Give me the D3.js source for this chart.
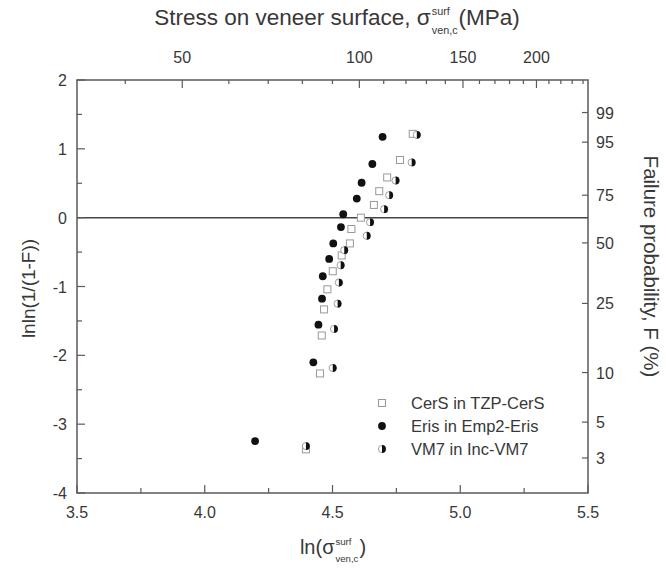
<!DOCTYPE html>
<html><head><meta charset="utf-8">
<script src="https://cdn.jsdelivr.net/npm/d3@7"></script>
<style>body{margin:0;background:#fff}text{font-family:"Liberation Sans",Arial,sans-serif;fill:#383838}</style>
</head><body><svg id="c" width="666" height="569"></svg>
<script>
// ---- data (x = ln(stress), y = lnln(1/(1-F))) ----
const cersX = [4.814,4.764,4.714,4.683,4.662,4.611,4.574,4.568,4.536,4.501,4.480,4.467,4.458,4.451,4.396];
const cersY = [1.218,0.838,0.584,0.385,0.185,0.000,-0.165,-0.374,-0.549,-0.778,-1.041,-1.333,-1.712,-2.263,-3.366];
const erisX = [4.696,4.656,4.614,4.595,4.542,4.533,4.503,4.487,4.462,4.459,4.445,4.425,4.197];
const erisY = [1.174,0.780,0.507,0.277,0.050,-0.136,-0.374,-0.599,-0.851,-1.177,-1.555,-2.102,-3.245];
const vm7X = [4.830,4.810,4.747,4.722,4.702,4.647,4.634,4.546,4.532,4.525,4.520,4.506,4.501,4.396];
const vm7Y = [1.203,0.803,0.540,0.327,0.123,-0.066,-0.263,-0.472,-0.691,-0.943,-1.250,-1.617,-2.184,-3.318];
const seriesNames = ["CerS in TZP-CerS","Eris in Emp2-Eris","VM7 in Inc-VM7"];
const bottomTicks = [3.5,4.0,4.5,5.0,5.5];
const bottomMinor = [3.75,4.25,4.75,5.25];
const leftTicks = [2,1,0,-1,-2,-3,-4];
const leftMinor = [1.5,0.5,-0.5,-1.5,-2.5,-3.5];
const topMajor = [50,100,150,200];
const topMinor = [40,60,70,80,90,110,120,130,140,160,170,180,190,210,220,230,240];
const rightTicks = [99,95,75,50,25,10,5,3];

const svg = d3.select("#c");
const L=77,R=588,T=80,B=493;
const x = d3.scaleLinear().domain([3.5,5.5]).range([L,R]);
const y = d3.scaleLinear().domain([-4,2]).range([B,T]);
const axisCol="#5a5a5a";
const g = svg.append("g");
const tickFs=16;

// frame
g.append("rect").attr("x",L).attr("y",T).attr("width",R-L).attr("height",B-T)
 .attr("fill","none").attr("stroke",axisCol).attr("stroke-width",1.5);
// zero line
g.append("line").attr("x1",L).attr("x2",R).attr("y1",y(0)).attr("y2",y(0)).attr("stroke","#444").attr("stroke-width",1.5);

function tick(x1,y1,x2,y2){g.append("line").attr("x1",x1).attr("y1",y1).attr("x2",x2).attr("y2",y2).attr("stroke",axisCol).attr("stroke-width",1.2);}
// bottom
bottomTicks.forEach(v=>{tick(x(v),B,x(v),B-8);
  g.append("text").attr("x",x(v)).attr("y",B+25).attr("text-anchor","middle").attr("font-size",tickFs).text(d3.format(".1f")(v));});
bottomMinor.forEach(v=>tick(x(v),B,x(v),B-5));
// left
leftTicks.forEach(v=>{tick(L,y(v),L+8,y(v));
  g.append("text").attr("x",L-10).attr("y",y(v)+6).attr("text-anchor","end").attr("font-size",tickFs).text(v);});
leftMinor.forEach(v=>tick(L,y(v),L+5,y(v)));
// top (log MPa)
const xt = v=>x(Math.log(v));
topMajor.forEach(v=>{tick(xt(v),T,xt(v),T+8);
  g.append("text").attr("x",xt(v)).attr("y",T-17).attr("text-anchor","middle").attr("font-size",tickFs).text(v);});
topMinor.forEach(v=>tick(xt(v),T,xt(v),T+4));
// right (failure probability)
const yr = p=>y(Math.log(-Math.log(1-p/100)));
rightTicks.forEach(v=>{tick(R,yr(v),R-6,yr(v));
  g.append("text").attr("x",R+8).attr("y",yr(v)+6).attr("text-anchor","start").attr("font-size",tickFs).text(v);});

// sigma label helper
function sigmaLabel(cx,cy,pre,post,fs){
  const grp=svg.append("g");
  const t1=grp.append("text").attr("x",0).attr("y",0).attr("font-size",fs).text(pre);
  const w1=t1.node().getComputedTextLength();
  const sup=grp.append("text").attr("x",w1+1).attr("y",-fs*0.45).attr("font-size",fs*0.48).text("surf");
  const sub=grp.append("text").attr("x",w1+1).attr("y",fs*0.38).attr("font-size",fs*0.48).text("ven,c");
  const w2=Math.max(sup.node().getComputedTextLength(),sub.node().getComputedTextLength());
  const t2=grp.append("text").attr("x",w1+w2+2).attr("y",0).attr("font-size",fs).text(post);
  const tw=w1+w2+2+t2.node().getComputedTextLength();
  grp.attr("transform",`translate(${cx-tw/2},${cy})`);
}
sigmaLabel(337,25,"Stress on veneer surface, σ"," (MPa)",22.5);
sigmaLabel(333,554,"ln(σ",")",20);

g.append("text").attr("transform",`translate(35,${(T+B)/2+2}) rotate(-90)`).attr("text-anchor","middle").attr("font-size",19).text("lnln(1/(1-F))");
g.append("text").attr("transform",`translate(644,${(T+B)/2-20}) rotate(90)`).attr("text-anchor","middle").attr("font-size",20.5).text("Failure probability, F (%)");

// markers
function square(sel){sel.append("rect").attr("x",-3.5).attr("y",-3.5).attr("width",7).attr("height",7).attr("fill","#fff").attr("stroke","#999").attr("stroke-width",1);}
function dot(sel){sel.append("circle").attr("r",3.9).attr("fill","#111");}
function half(sel){sel.append("circle").attr("r",3.6).attr("fill","#fff").attr("stroke","#888").attr("stroke-width",0.8);
  sel.append("path").attr("d",d3.arc()({innerRadius:0,outerRadius:3.9,startAngle:0,endAngle:Math.PI})).attr("fill","#111");}
const makers=[square,dot,half];
const sets=[[cersX,cersY],[erisX,erisY],[vm7X,vm7Y]];
const drawOrder=[0,2,1];
drawOrder.forEach(i=>{
  const [xs,ys]=sets[i];
  xs.forEach((v,k)=>{const m=svg.append("g").attr("transform",`translate(${x(v)},${y(ys[k])})`);makers[i](m);});
});
// legend
seriesNames.forEach((n,i)=>{
  const ly=403+i*23;
  const m=svg.append("g").attr("transform",`translate(382,${ly})`);makers[i](m);
  svg.append("text").attr("x",411).attr("y",ly+6).attr("font-size",16.5).text(n);
});
</script></body></html>
